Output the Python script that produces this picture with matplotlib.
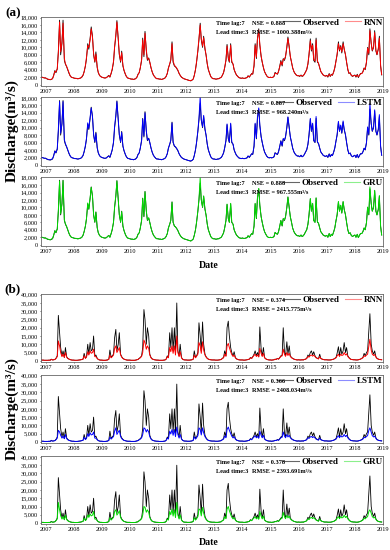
import numpy as np
import pandas as pd
import matplotlib
matplotlib.use('Agg')
from matplotlib import pyplot as plt
import matplotlib.dates as mdates
from matplotlib.ticker import FuncFormatter, MultipleLocator
from matplotlib.lines import Line2D

# semi-monthly discharge readings (thousand m3/s), Nov 2006 .. Dec 2018
obs_a = [2.0, 2.0, 1.9, 1.8,
    1.8,1.6,1.4,1.4,1.3,1.4,1.6,2.5,3.8,3.2,4.2,9.0,17.3,8.0,11.0,17.3,6.5,5.5,4.8,4.0,3.0,2.4,2.0,1.9,
    1.8,1.7,1.7,1.6,1.6,1.7,1.8,2.0,2.5,3.5,5.0,7.0,11.0,9.5,12.5,15.5,13.0,8.0,6.0,8.8,4.5,3.2,2.5,2.2,
    2.0,1.9,1.8,1.8,1.9,2.2,2.5,2.0,3.0,4.0,6.0,10.0,13.0,17.2,12.0,8.0,6.0,9.0,5.0,3.8,2.8,2.2,1.8,1.7,
    1.6,1.5,1.5,1.4,1.5,1.6,2.0,2.8,3.2,4.5,6.5,12.5,7.5,14.3,9.0,6.5,7.2,6.0,4.5,3.5,2.6,2.2,1.8,1.6,
    1.6,1.5,1.5,1.4,1.5,1.6,1.8,2.2,3.0,4.5,5.5,6.5,11.5,6.0,5.0,4.8,4.3,3.8,3.0,2.5,2.0,1.8,1.6,1.5,
    1.4,1.3,1.2,1.1,1.0,1.2,1.5,2.5,4.0,6.0,9.0,12.0,16.5,12.0,10.0,13.0,9.5,8.0,5.5,4.0,3.0,2.2,1.8,1.6,
    1.6,1.5,1.5,1.6,1.6,1.8,2.0,2.5,3.2,4.5,6.5,10.8,7.0,6.0,11.0,6.0,5.5,4.0,3.2,2.6,2.2,1.9,1.8,1.7,
    1.8,1.7,1.7,1.8,1.9,2.4,2.0,2.5,3.0,2.8,5.0,11.0,7.0,12.5,15.0,10.5,7.5,6.0,4.5,3.5,2.8,2.3,2.0,1.9,
    2.0,1.9,2.0,2.2,3.3,3.0,2.8,3.5,5.0,6.5,5.0,7.0,6.5,7.5,10.0,12.8,10.0,7.5,6.0,4.5,3.5,3.0,2.6,2.4,
    2.4,2.2,2.6,2.2,2.4,2.8,3.5,4.0,5.5,8.0,12.3,9.0,11.0,6.5,6.0,12.5,6.0,5.8,4.5,3.5,3.0,2.6,2.4,2.3,
    2.5,2.0,3.0,2.2,2.8,2.5,3.5,4.5,6.5,8.0,11.5,9.0,10.5,8.5,11.5,9.5,8.0,6.0,4.0,3.0,3.2,2.5,2.2,2.4,
    2.6,2.0,2.8,1.9,2.5,3.0,3.0,3.5,4.5,4.0,6.0,10.0,8.0,15.0,11.0,9.0,10.0,14.5,9.0,8.0,9.5,13.0,5.0,2.6]

rnn_a = [2.0, 2.0, 1.9, 1.8,
    1.8,1.6,1.5,1.4,1.4,1.4,1.7,2.4,3.6,3.4,4.3,8.5,16.8,8.8,11.5,16.5,7.0,5.6,4.9,4.1,3.1,2.4,2.0,1.9,
    1.8,1.7,1.7,1.6,1.6,1.7,1.8,2.1,2.6,3.4,5.2,7.4,10.5,10.0,12.0,15.0,12.5,8.4,6.2,8.2,4.8,3.3,2.5,2.2,
    2.0,1.9,1.8,1.8,1.9,2.1,2.4,2.1,3.1,4.2,6.3,10.2,13.5,16.8,12.5,8.3,6.3,8.6,5.2,3.9,2.9,2.2,1.8,1.7,
    1.6,1.5,1.5,1.4,1.5,1.6,2.0,2.7,3.3,4.6,6.8,12.0,8.0,13.8,9.4,6.8,7.0,6.1,4.6,3.5,2.6,2.2,1.8,1.6,
    1.6,1.5,1.5,1.4,1.5,1.6,1.8,2.2,3.1,4.4,5.6,6.8,11.0,6.4,5.2,4.9,4.4,3.9,3.0,2.5,2.0,1.8,1.6,1.5,
    1.4,1.3,1.2,1.1,1.1,1.2,1.5,2.4,4.1,6.2,9.3,12.3,16.0,12.4,10.3,12.6,9.8,8.0,5.6,4.1,3.0,2.2,1.8,1.6,
    1.6,1.5,1.5,1.6,1.6,1.8,2.0,2.5,3.3,4.6,6.7,10.4,7.4,6.2,10.6,6.3,5.5,4.1,3.2,2.6,2.2,1.9,1.8,1.7,
    1.8,1.7,1.7,1.8,1.9,2.3,2.1,2.5,2.9,2.9,5.3,10.6,7.4,12.2,14.6,10.8,7.7,6.1,4.6,3.5,2.8,2.3,2.0,1.9,
    2.0,1.9,2.0,2.3,3.1,3.0,2.9,3.6,4.8,6.2,5.3,6.8,6.8,7.6,10.3,12.4,10.2,7.6,6.0,4.6,3.5,3.0,2.6,2.4,
    2.4,2.3,2.5,2.3,2.4,2.8,3.4,4.1,5.7,8.2,11.8,9.3,10.6,6.8,6.3,12.0,6.4,5.7,4.6,3.6,3.0,2.6,2.4,2.3,
    2.4,2.2,2.8,2.3,2.7,2.6,3.4,4.6,6.3,8.2,11.0,9.3,10.2,8.8,11.0,9.7,8.0,6.1,4.2,3.1,3.1,2.5,2.3,2.4,
    2.5,2.2,2.6,2.1,2.5,2.9,3.0,3.4,4.4,4.2,6.2,9.8,8.4,14.5,11.2,9.2,10.2,14.0,9.3,8.1,9.7,12.5,5.3,2.7]

lstm_a = [2.0, 2.0, 1.9, 1.8,
    1.8,1.6,1.5,1.4,1.4,1.5,1.7,2.4,3.7,3.3,4.4,9.5,17.0,8.5,11.2,17.0,6.8,5.7,4.9,4.1,3.1,2.5,2.0,1.9,
    1.8,1.7,1.7,1.6,1.6,1.7,1.8,2.1,2.6,3.6,5.3,7.2,11.3,9.8,12.8,15.3,12.8,8.3,6.2,8.5,4.7,3.3,2.5,2.2,
    2.0,1.9,1.8,1.8,1.9,2.2,2.4,2.1,3.1,4.1,6.2,10.4,13.3,17.0,12.3,8.2,6.2,8.8,5.1,3.9,2.9,2.2,1.8,1.7,
    1.6,1.5,1.5,1.4,1.5,1.6,2.0,2.8,3.3,4.6,6.7,12.3,7.8,14.0,9.2,6.7,7.1,6.1,4.6,3.5,2.6,2.2,1.8,1.6,
    1.6,1.5,1.5,1.4,1.5,1.6,1.8,2.2,3.1,4.5,5.6,6.7,11.3,6.2,5.1,4.9,4.4,3.9,3.0,2.5,2.0,1.8,1.6,1.5,
    1.4,1.3,1.2,1.1,1.1,1.2,1.5,2.5,4.1,6.1,9.2,12.5,18.3,12.2,10.2,13.3,9.7,8.1,5.6,4.1,3.0,2.2,1.8,1.6,
    1.6,1.5,1.5,1.6,1.6,1.8,2.0,2.5,3.3,4.6,6.6,11.0,7.2,6.1,11.2,6.2,5.6,4.1,3.2,2.6,2.2,1.9,1.8,1.7,
    1.8,1.7,1.7,1.8,1.9,2.4,2.1,2.5,3.0,2.9,5.2,11.2,7.2,12.8,15.3,10.7,7.6,6.1,4.6,3.5,2.8,2.3,2.0,1.9,
    2.0,1.9,2.0,2.2,3.2,3.0,2.9,3.6,5.0,6.4,5.2,7.1,6.7,7.6,10.2,12.9,10.1,7.6,6.1,4.6,3.5,3.0,2.6,2.4,
    2.4,2.2,2.6,2.2,2.4,2.8,3.5,4.1,5.6,8.1,12.5,9.1,11.2,6.6,6.1,13.0,6.2,5.8,4.5,3.5,3.0,2.6,2.4,2.3,
    2.5,2.1,2.9,2.2,2.8,2.5,3.5,4.6,6.5,8.1,11.7,9.1,10.7,8.6,11.8,9.6,8.1,6.1,4.1,3.0,3.2,2.5,2.2,2.4,
    2.6,2.0,2.8,2.0,2.5,3.0,3.0,3.5,4.5,4.1,6.1,10.2,8.2,16.5,11.2,9.1,10.2,14.8,9.1,8.1,9.6,13.5,5.1,2.6]

gru_a = [2.0, 2.0, 1.9, 1.8,
    1.8,1.6,1.5,1.4,1.3,1.5,1.7,2.5,3.7,3.3,4.3,9.2,17.1,8.3,11.0,17.2,6.7,5.6,4.9,4.0,3.0,2.4,2.0,1.9,
    1.8,1.7,1.7,1.6,1.6,1.7,1.8,2.0,2.6,3.5,5.1,7.1,11.2,9.6,12.6,15.4,12.9,8.1,6.1,8.7,4.6,3.2,2.5,2.2,
    2.0,1.9,1.8,1.8,1.9,2.2,2.5,2.0,3.0,4.1,6.1,10.2,13.2,17.1,12.1,8.1,6.1,8.9,5.0,3.8,2.8,2.2,1.8,1.7,
    1.6,1.5,1.5,1.4,1.5,1.6,2.0,2.8,3.2,4.5,6.6,12.4,7.7,14.2,9.1,6.6,7.2,6.0,4.5,3.5,2.6,2.2,1.8,1.6,
    1.6,1.5,1.5,1.4,1.5,1.6,1.8,2.2,3.0,4.5,5.5,6.6,11.4,6.1,5.0,4.8,4.3,3.8,3.0,2.5,2.0,1.8,1.6,1.5,
    1.4,1.3,1.2,1.1,1.0,1.2,1.5,2.5,4.0,6.1,9.1,12.2,18.0,12.1,10.1,13.1,9.6,8.0,5.5,4.0,3.0,2.2,1.8,1.6,
    1.6,1.5,1.5,1.6,1.6,1.8,2.0,2.5,3.2,4.5,6.5,10.9,7.1,6.0,11.1,6.1,5.5,4.0,3.2,2.6,2.2,1.9,1.8,1.7,
    1.8,1.7,1.7,1.8,1.9,2.4,2.0,2.5,3.0,2.8,5.1,11.1,7.1,12.6,15.1,10.6,7.5,6.0,4.5,3.5,2.8,2.3,2.0,1.9,
    2.0,1.9,2.0,2.2,3.3,3.0,2.8,3.5,5.0,6.5,5.1,7.0,6.6,7.5,10.1,12.8,10.0,7.5,6.0,4.5,3.5,3.0,2.6,2.4,
    2.4,2.2,2.6,2.2,2.4,2.8,3.5,4.0,5.5,8.0,12.4,9.0,11.1,6.5,6.0,12.6,6.1,5.8,4.5,3.5,3.0,2.6,2.4,2.3,
    2.5,2.0,3.0,2.2,2.8,2.5,3.5,4.5,6.5,8.0,11.6,9.0,10.6,8.5,11.6,9.5,8.0,6.0,4.0,3.0,3.2,2.5,2.2,2.4,
    2.6,2.0,2.8,1.9,2.5,3.0,3.0,3.5,4.5,4.0,6.0,10.1,8.1,15.5,11.1,9.0,10.1,14.6,9.0,8.0,9.5,13.2,5.0,2.6]

obs_b = [0.5, 0.4, 0.4, 0.3,
    0.3,0.3,0.3,0.4,0.3,1.0,0.5,0.6,0.8,1.5,3.0,27.5,17.0,8.0,3.0,6.0,2.0,8.0,2.5,1.5,1.0,0.7,0.5,0.4,
    0.4,0.3,0.3,0.3,0.4,0.5,0.6,0.8,1.0,4.5,1.5,2.5,10.0,4.0,11.0,6.0,7.0,15.0,3.0,3.5,1.5,0.8,0.5,0.4,
    0.4,0.3,0.3,0.3,0.4,0.5,1.0,6.5,2.0,3.0,4.0,14.0,19.0,6.0,10.0,17.0,4.0,2.5,1.5,1.0,0.7,0.5,0.4,0.4,
    0.4,0.3,0.3,0.3,0.3,0.4,0.6,0.8,1.5,2.0,3.0,8.0,31.0,25.0,10.0,20.0,15.0,4.0,2.0,1.2,0.8,0.6,0.5,0.4,
    0.4,0.3,0.3,0.3,0.3,0.4,0.5,1.0,3.0,2.0,17.0,8.0,20.0,6.0,20.0,4.0,35.0,6.0,3.0,10.0,2.0,1.0,0.6,0.5,
    0.5,0.4,0.4,0.4,0.5,0.6,1.0,6.0,2.0,3.0,5.0,23.0,15.0,6.0,23.5,10.0,4.0,2.5,1.5,1.0,0.7,0.6,0.5,0.5,
    0.5,0.4,0.4,0.4,0.5,0.6,0.8,1.5,2.0,6.0,3.0,20.0,24.0,15.0,8.0,5.0,3.0,5.5,2.0,1.2,0.8,0.6,0.5,0.5,
    0.5,0.4,0.4,0.5,0.6,0.8,1.0,2.0,1.5,2.5,4.0,6.0,3.0,5.0,2.5,20.5,7.0,3.0,8.0,2.0,1.2,0.8,0.6,0.5,
    0.5,0.4,0.5,0.6,1.0,0.8,1.5,1.0,2.0,3.0,3.5,20.0,5.0,3.0,11.5,4.0,9.0,3.0,2.0,1.5,1.0,0.8,0.6,0.5,
    0.6,0.5,0.5,0.6,0.5,0.8,1.0,1.5,3.5,2.5,5.0,6.0,3.5,5.5,3.0,2.0,1.5,1.2,4.0,1.5,1.0,0.8,0.6,0.6,
    0.6,0.5,0.5,0.5,0.6,0.8,1.0,1.5,2.0,4.5,8.5,3.0,8.0,4.0,6.0,11.0,5.0,8.0,3.0,2.0,1.2,0.8,0.7,0.6,
    0.6,0.5,0.5,0.6,0.8,1.0,1.5,2.0,4.5,3.0,5.0,6.0,18.0,28.5,10.0,6.0,4.0,6.0,2.5,1.5,1.0,0.8,0.7,0.6]

rnn_b = [0.5, 0.4, 0.4, 0.3,
    0.3,0.3,0.3,0.4,0.3,0.8,0.5,0.6,0.8,1.4,2.5,12.0,9.0,5.0,2.5,4.0,2.0,5.0,2.2,1.4,1.0,0.7,0.5,0.4,
    0.4,0.3,0.3,0.3,0.4,0.5,0.6,0.8,1.0,3.0,1.5,2.3,5.5,3.5,6.0,4.5,5.0,7.0,2.5,2.5,1.4,0.8,0.5,0.4,
    0.4,0.3,0.3,0.3,0.4,0.5,0.9,3.5,1.8,2.5,3.5,7.5,9.0,5.0,6.5,8.0,3.5,2.2,1.4,1.0,0.7,0.5,0.4,0.4,
    0.4,0.3,0.3,0.3,0.3,0.4,0.6,0.8,1.4,1.8,2.7,5.0,12.5,11.0,7.0,9.0,7.5,3.5,1.8,1.1,0.8,0.6,0.5,0.4,
    0.4,0.3,0.3,0.3,0.3,0.4,0.5,0.9,2.5,1.8,8.0,5.5,9.0,4.5,9.0,3.5,15.0,5.0,2.5,5.5,1.8,1.0,0.6,0.5,
    0.5,0.4,0.4,0.4,0.5,0.6,0.9,3.5,1.8,2.7,4.0,11.0,9.0,4.5,11.5,6.5,3.5,2.3,1.4,1.0,0.7,0.6,0.5,0.5,
    0.5,0.4,0.4,0.4,0.5,0.6,0.8,1.4,1.8,4.0,2.7,9.0,10.5,8.0,5.5,3.8,2.6,3.5,1.8,1.1,0.8,0.6,0.5,0.5,
    0.5,0.4,0.4,0.5,0.6,0.8,1.0,1.8,1.4,2.3,3.2,4.0,2.6,3.5,2.3,7.5,4.5,2.6,4.5,1.8,1.1,0.8,0.6,0.5,
    0.5,0.4,0.5,0.6,0.9,0.8,1.4,1.0,1.8,2.6,3.0,7.0,4.0,2.7,5.0,3.2,4.5,2.6,1.8,1.4,1.0,0.8,0.6,0.5,
    0.6,0.5,0.5,0.6,0.5,0.8,1.0,1.4,2.6,2.2,3.2,3.5,2.8,3.4,2.5,1.8,1.4,1.1,2.5,1.4,1.0,0.8,0.6,0.6,
    0.6,0.5,0.5,0.5,0.6,0.8,1.0,1.4,1.8,3.0,4.0,2.6,4.0,3.2,3.5,5.0,3.5,4.2,2.6,1.8,1.1,0.8,0.7,0.6,
    0.6,0.5,0.5,0.6,0.8,1.0,1.4,1.8,3.0,2.6,3.5,4.0,9.0,13.0,6.5,4.0,3.2,3.8,2.2,1.4,1.0,0.8,0.7,0.6]

lstm_b = [0.5, 0.4, 0.4, 0.3,
    0.3,0.3,0.3,0.4,0.3,0.7,0.5,0.6,0.8,1.3,2.3,7.0,6.0,4.0,2.3,3.5,1.9,4.5,2.0,1.3,0.9,0.7,0.5,0.4,
    0.4,0.3,0.3,0.3,0.4,0.5,0.6,0.8,1.0,2.8,1.4,2.2,5.0,3.3,5.5,4.2,4.5,6.0,2.3,2.3,1.3,0.8,0.5,0.4,
    0.4,0.3,0.3,0.3,0.4,0.5,0.9,3.0,1.7,2.4,3.3,6.5,8.5,4.5,6.0,7.0,3.2,2.0,1.3,0.9,0.7,0.5,0.4,0.4,
    0.4,0.3,0.3,0.3,0.3,0.4,0.6,0.8,1.3,1.7,2.5,4.5,8.5,8.0,6.0,7.5,6.0,3.2,1.7,1.1,0.8,0.6,0.5,0.4,
    0.4,0.3,0.3,0.3,0.3,0.4,0.5,0.9,2.3,1.7,6.5,4.8,7.5,4.0,7.5,3.2,9.0,4.5,2.3,4.5,1.7,1.0,0.6,0.5,
    0.5,0.4,0.4,0.4,0.5,0.6,0.9,3.2,1.7,2.5,3.8,8.5,7.5,4.2,8.5,5.5,3.2,2.2,1.3,0.9,0.7,0.6,0.5,0.5,
    0.5,0.4,0.4,0.4,0.5,0.6,0.8,1.3,1.7,3.6,2.5,7.5,9.0,7.0,5.0,3.5,2.4,3.2,1.7,1.1,0.8,0.6,0.5,0.5,
    0.5,0.4,0.4,0.5,0.6,0.8,1.0,1.7,1.3,2.2,3.0,3.8,2.5,3.3,2.2,6.5,4.0,2.5,4.0,1.7,1.1,0.8,0.6,0.5,
    0.5,0.4,0.5,0.6,0.9,0.8,1.3,1.0,1.7,2.5,2.8,6.0,3.6,2.5,4.5,3.0,4.0,2.5,1.7,1.3,1.0,0.8,0.6,0.5,
    0.6,0.5,0.5,0.6,0.5,0.8,1.0,1.3,2.5,2.1,3.0,3.3,2.6,3.2,2.4,1.7,1.3,1.1,2.3,1.3,1.0,0.8,0.6,0.6,
    0.6,0.5,0.5,0.5,0.6,0.8,1.0,1.3,1.7,2.8,3.8,2.5,3.8,3.0,3.3,4.5,3.2,4.0,2.5,1.7,1.1,0.8,0.7,0.6,
    0.6,0.5,0.5,0.6,0.8,1.0,1.3,1.7,2.8,2.5,3.3,3.8,7.0,8.5,6.0,3.8,3.0,3.5,2.1,1.3,1.0,0.8,0.7,0.6]

gru_b = [0.5, 0.4, 0.4, 0.3,
    0.3,0.3,0.3,0.4,0.3,0.8,0.5,0.6,0.8,1.4,2.5,12.5,8.0,4.5,2.4,3.8,2.0,4.8,2.1,1.4,1.0,0.7,0.5,0.4,
    0.4,0.3,0.3,0.3,0.4,0.5,0.6,0.8,1.0,3.0,1.5,2.3,5.0,3.4,5.5,4.3,4.8,7.0,2.4,2.4,1.4,0.8,0.5,0.4,
    0.4,0.3,0.3,0.3,0.4,0.5,0.9,3.2,1.8,2.5,3.4,7.0,8.0,4.8,6.0,7.5,3.3,2.1,1.4,1.0,0.7,0.5,0.4,0.4,
    0.4,0.3,0.3,0.3,0.3,0.4,0.6,0.8,1.4,1.8,2.6,4.8,10.0,9.5,6.5,8.0,6.5,3.3,1.8,1.1,0.8,0.6,0.5,0.4,
    0.4,0.3,0.3,0.3,0.3,0.4,0.5,0.9,2.4,1.8,7.0,5.0,8.5,4.2,8.0,3.3,12.5,4.8,2.4,5.0,1.8,1.0,0.6,0.5,
    0.5,0.4,0.4,0.4,0.5,0.6,0.9,3.3,1.8,2.6,3.9,8.5,8.0,4.3,9.5,6.0,3.3,2.2,1.4,1.0,0.7,0.6,0.5,0.5,
    0.5,0.4,0.4,0.4,0.5,0.6,0.8,1.4,1.8,3.8,2.6,8.5,10.0,7.5,5.2,3.6,2.5,3.3,1.8,1.1,0.8,0.6,0.5,0.5,
    0.5,0.4,0.4,0.5,0.6,0.8,1.0,1.8,1.4,2.3,3.1,3.9,2.5,3.4,2.3,7.0,4.2,2.5,4.2,1.8,1.1,0.8,0.6,0.5,
    0.5,0.4,0.5,0.6,0.9,0.8,1.4,1.0,1.8,2.5,2.9,6.5,3.8,2.6,4.8,3.1,4.2,2.5,1.8,1.4,1.0,0.8,0.6,0.5,
    0.6,0.5,0.5,0.6,0.5,0.8,1.0,1.4,2.5,2.1,3.1,3.4,2.7,3.3,2.4,1.8,1.4,1.1,2.4,1.4,1.0,0.8,0.6,0.6,
    0.6,0.5,0.5,0.5,0.6,0.8,1.0,1.4,1.8,2.9,3.9,2.6,3.9,3.1,3.4,4.8,3.3,4.1,2.5,1.8,1.1,0.8,0.7,0.6,
    0.6,0.5,0.5,0.6,0.8,1.0,1.4,1.8,2.9,2.5,3.4,3.9,7.0,8.0,6.0,3.9,3.1,3.6,2.2,1.4,1.0,0.8,0.7,0.6]

models = ['RNN', 'LSTM', 'GRU']
colors = ['#ff0000', '#0000ff', '#00dd00']
nse_a = ['0.888', '0.887', '0.888']
rmse_a = ['1000.388', '968.240', '967.555']
nse_b = ['0.374', '0.366', '0.378']
rmse_b = ['2415.775', '2408.034', '2393.691']

dates = pd.date_range('2006-11-01', periods=len(obs_a), freq='SMS')

plt.rcParams['font.family'] = ['Liberation Serif', 'DejaVu Serif']

fig = plt.figure(figsize=(3.9, 5.5), dpi=100)


def draw_panel(bottom, height, obs, pred, name, color, nse, rmse, ymax, step):
    ax = fig.add_axes([0.105, bottom, 0.877, height])
    ax.plot(dates, np.array(obs) * 1000, color='black', lw=0.6)
    ax.plot(dates, np.array(pred) * 1000, color=color, lw=0.7)
    ax.set_xlim(pd.Timestamp('2006-11-01'), pd.Timestamp('2019-01-01'))
    ax.set_ylim(-ymax * 0.017, ymax * 1.012)
    ax.xaxis.set_major_locator(mdates.YearLocator())
    ax.xaxis.set_major_formatter(mdates.DateFormatter('%Y'))
    ax.yaxis.set_major_locator(MultipleLocator(step))
    ax.yaxis.set_major_formatter(FuncFormatter(lambda v, p: f'{v:,.0f}'))
    ax.tick_params(labelsize=4.5, length=1, width=0.4, pad=1)
    for s in ax.spines.values():
        s.set_color('#666666')
        s.set_linewidth(0.6)
    ax.text(0.512, 0.90, 'Time lag:7', transform=ax.transAxes, fontsize=4.5,
            weight='bold', va='center')
    ax.text(0.618, 0.90, f'NSE = {nse}', transform=ax.transAxes, fontsize=4.5,
            weight='bold', va='center')
    ax.text(0.512, 0.77, 'Lead time:3', transform=ax.transAxes, fontsize=4.5,
            weight='bold', va='center')
    ax.text(0.618, 0.77, f'RMSE = {rmse}m³/s', transform=ax.transAxes, fontsize=4.5,
            weight='bold', va='center')
    handles = [Line2D([], [], color='black', lw=0.8, alpha=0.6),
               Line2D([], [], color=color, lw=0.8, alpha=0.45)]
    ax.legend(handles, ['Observed', name], loc='upper right', bbox_to_anchor=(1.01, 1.03),
              ncol=2, frameon=False, prop={'weight': 'bold', 'size': 6.5},
              handlelength=1.8, columnspacing=0.6, handletextpad=0.3, borderpad=0.2,
              borderaxespad=0.2)
    return ax


a_bottoms = [0.844, 0.698, 0.553]
b_bottoms = [0.342, 0.1945, 0.047]
preds_a = [rnn_a, lstm_a, gru_a]
preds_b = [rnn_b, lstm_b, gru_b]
for i in range(3):
    draw_panel(a_bottoms[i], 0.1255, obs_a, preds_a[i], models[i], colors[i],
               nse_a[i], rmse_a[i], 18000, 2000)
    draw_panel(b_bottoms[i], 0.1236, obs_b, preds_b[i], models[i], colors[i],
               nse_b[i], rmse_b[i], 40000, 5000)

fig.text(0.015, 0.976, '(a)', fontsize=9.5, weight='bold', ha='left', va='center')
fig.text(0.012, 0.474, '(b)', fontsize=9.5, weight='bold', ha='left', va='center')
fig.text(0.032, 0.762, 'Discharge(m³/s)', rotation=90, fontsize=11, weight='bold',
         ha='center', va='center')
fig.text(0.032, 0.258, 'Discharge(m³/s)', rotation=90, fontsize=11, weight='bold',
         ha='center', va='center')
fig.text(0.536, 0.518, 'Date', fontsize=7, weight='bold', ha='center', va='center')
fig.text(0.536, 0.013, 'Date', fontsize=7, weight='bold', ha='center', va='center')

fig.savefig('out.png', dpi=100)
